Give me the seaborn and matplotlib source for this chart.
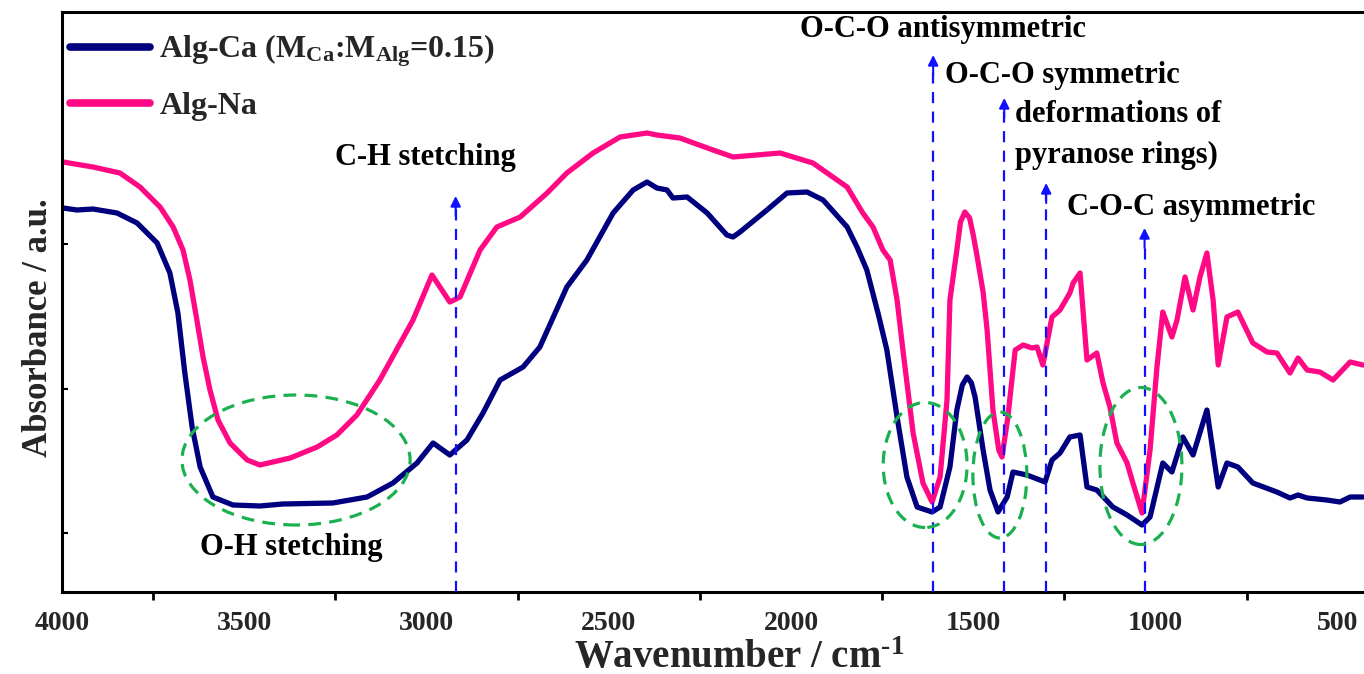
import numpy as np
import pandas as pd
import matplotlib
matplotlib.use("Agg")
import matplotlib.pyplot as plt
from matplotlib.patches import Ellipse
from matplotlib.lines import Line2D
import seaborn as sns

# ---------------- data ----------------
ca_wn = [3997, 3959, 3915, 3849, 3794, 3739, 3704, 3682, 3663, 3643, 3621, 3586, 3531, 3457,
         3394, 3257, 3163, 3092, 3026, 2982, 2936, 2889, 2845, 2798, 2735, 2689, 2615, 2560,
         2488, 2433, 2395, 2368, 2340, 2324, 2285, 2230, 2176, 2159, 2140, 2066, 2011, 1956,
         1912, 1846, 1819, 1792, 1760, 1737, 1709, 1682, 1654, 1613, 1591, 1564, 1545, 1530,
         1517, 1505, 1495, 1473, 1454, 1432, 1407, 1391, 1353, 1317, 1303, 1284, 1262, 1235,
         1207, 1188, 1161, 1117, 1078, 1037, 1015, 980, 955, 925, 897, 859, 828, 804, 774,
         733, 667, 631, 609, 584, 530, 494, 466, 431]
ca_abs = [3.92, 3.90, 3.91, 3.87, 3.77, 3.57, 3.27, 2.87, 2.27, 1.73, 1.33, 1.03, 0.95, 0.94,
          0.96, 0.97, 1.03, 1.17, 1.37, 1.57, 1.45, 1.60, 1.87, 2.20, 2.33, 2.53, 3.13, 3.40,
          3.87, 4.10, 4.18, 4.12, 4.10, 4.02, 4.03, 3.87, 3.65, 3.63, 3.68, 3.90, 4.07, 4.08,
          4.00, 3.73, 3.53, 3.30, 2.85, 2.50, 1.83, 1.23, 0.93, 0.88, 0.93, 1.33, 1.90, 2.15,
          2.23, 2.17, 2.03, 1.50, 1.10, 0.88, 1.03, 1.28, 1.25, 1.20, 1.18, 1.40, 1.47, 1.63,
          1.65, 1.13, 1.10, 0.93, 0.85, 0.75, 0.83, 1.37, 1.28, 1.63, 1.45, 1.90, 1.13, 1.37,
          1.33, 1.17, 1.08, 1.02, 1.05, 1.02, 1.00, 0.98, 1.03, 1.03]

na_wn = [3997, 3915, 3841, 3786, 3731, 3695, 3668, 3649, 3630, 3613, 3594, 3572, 3539, 3492,
         3457, 3374, 3300, 3246, 3191, 3128, 3037, 2985, 2936, 2908, 2853, 2807, 2743, 2669,
         2615, 2543, 2469, 2395, 2368, 2305, 2214, 2159, 2030, 1940, 1846, 1803, 1775, 1748,
         1728, 1709, 1693, 1665, 1638, 1613, 1591, 1572, 1564, 1545, 1535, 1523, 1510, 1500,
         1490, 1473, 1462, 1446, 1430, 1421, 1405, 1385, 1363, 1339, 1325, 1309, 1284, 1262,
         1235, 1226, 1207, 1188, 1161, 1144, 1125, 1106, 1078, 1062, 1037, 1015, 996, 980, 955,
         941, 919, 897, 878, 859, 842, 828, 804, 774, 733, 694, 667, 631, 609, 584, 549, 513,
         466, 431]
na_abs = [4.38, 4.33, 4.27, 4.13, 3.93, 3.73, 3.50, 3.20, 2.80, 2.43, 2.10, 1.80, 1.57, 1.40,
          1.35, 1.42, 1.53, 1.65, 1.85, 2.20, 2.80, 3.25, 2.98, 3.03, 3.50, 3.73, 3.83, 4.07,
          4.27, 4.47, 4.63, 4.67, 4.65, 4.62, 4.50, 4.43, 4.47, 4.37, 4.13, 3.87, 3.73, 3.50,
          3.40, 3.00, 2.50, 1.67, 1.17, 0.98, 1.23, 2.00, 3.00, 3.50, 3.78, 3.88, 3.82, 3.65,
          3.45, 3.08, 2.70, 1.90, 1.50, 1.43, 1.83, 2.50, 2.55, 2.52, 2.53, 2.35, 2.83, 2.90,
          3.07, 3.17, 3.27, 2.40, 2.47, 2.17, 1.93, 1.57, 1.37, 1.17, 0.87, 1.50, 2.33, 2.88,
          2.63, 2.80, 3.23, 2.90, 3.23, 3.47, 3.00, 2.35, 2.83, 2.88, 2.57, 2.48, 2.47, 2.27,
          2.42, 2.30, 2.28, 2.20, 2.38, 2.35]

series_names = ["Alg-Ca (M$_{\\mathbf{Ca}}$:M$_{\\mathbf{Alg}}$=0.15)", "Alg-Na"]
series_colors = ["#00007f", "#ff0a84"]

bands_wn = [2920, 1610, 1415, 1300, 1030]
bands_tip = [4.04, 5.45, 5.02, 4.17, 3.72]

labels_text = ["C-H stetching", "O-H stetching", "O-C-O antisymmetric", "O-C-O symmetric",
               "deformations of", "pyranose rings)", "C-O-C asymmetric"]
labels_wn = [3251, 3621, 1975, 1578, 1386, 1386, 1243]
labels_y = [4.42, 0.52, 5.70, 5.25, 4.85, 4.45, 3.92]

# ellipses: centre wavenumber, centre absorbance, width (cm-1), height
ell_wn = [3358, 1632, 1427, 1040]
ell_y = [1.40, 1.35, 1.25, 1.34]
ell_w = [626, 230, 148, 225]
ell_h = [1.30, 1.25, 1.26, 1.57]

xticks_major = [4000, 3500, 3000, 2500, 2000, 1500, 1000, 500]
xticks_minor = [3750, 3250, 2750, 2250, 1750, 1250, 750]
yticks_pos = [0.67, 2.115, 3.56]

# ---------------- style ----------------
sns.set_theme(style="white")
plt.rcParams["font.family"] = ["Liberation Serif", "DejaVu Serif"]
plt.rcParams["font.weight"] = "bold"
plt.rcParams["mathtext.fontset"] = "custom"
plt.rcParams["mathtext.rm"] = "Liberation Serif:bold"
plt.rcParams["mathtext.bf"] = "Liberation Serif:bold"
plt.rcParams["mathtext.it"] = "Liberation Serif:bold"

df = pd.concat([
    pd.DataFrame({"wn": ca_wn, "abs": ca_abs, "sample": series_names[0]}),
    pd.DataFrame({"wn": na_wn, "abs": na_abs, "sample": series_names[1]}),
])

fig = plt.figure(figsize=(13.64, 6.74), dpi=100)
ax = fig.add_axes([62 / 1364, 82 / 674, 1 - 62 / 1364, 580 / 674])

sns.lineplot(data=df, x="wn", y="abs", hue="sample", palette=series_colors,
             hue_order=series_names, estimator=None, sort=False, lw=3.8, ax=ax, legend=False)
for ln in ax.get_lines():
    ln.set_solid_joinstyle("round")

ax.set_xlim(4000, 428)
ax.set_ylim(0.08, 5.88)

# arrows
for w, tip in zip(bands_wn, bands_tip):
    ax.plot([w, w], [0.08, tip - 0.05], color="#1010ff", lw=1.6, ls=(0, (5, 3.8)), zorder=4)
    ax.annotate("", xy=(w, tip), xytext=(w, tip - 0.2),
                arrowprops=dict(arrowstyle="-|>", color="#1010ff", lw=1.5,
                                mutation_scale=15, shrinkA=0, shrinkB=0), zorder=5)

for cx, cy, ew, eh in zip(ell_wn, ell_y, ell_w, ell_h):
    ax.add_patch(Ellipse((cx, cy), ew, eh, fill=False, ec="#1bb04f", lw=2.3,
                         ls=(0, (4, 2.6)), zorder=5))

for t, x, y in zip(labels_text, labels_wn, labels_y):
    ax.text(x, y, t, ha="left", va="center", fontsize=22, fontweight="bold", color="black")

# axes styling
for s in ["left", "bottom", "top"]:
    ax.spines[s].set_linewidth(2.2)
    ax.spines[s].set_color("black")
ax.spines["right"].set_visible(False)

ax.set_xticks(xticks_major)
ax.set_xticks(xticks_minor, minor=True)
ax.tick_params(axis="x", which="major", direction="out", length=10, width=2, top=False,
               labelsize=20, pad=4, color="black")
ax.tick_params(axis="x", which="minor", direction="out", length=6, width=2, top=False,
               bottom=True, color="black")
ax.set_xticklabels([str(v) for v in xticks_major], fontweight="bold")
ax.set_yticks(yticks_pos)
ax.set_yticklabels([])
ax.tick_params(axis="y", which="major", direction="in", length=4, width=1.5, left=True,
               color="black")

ax.set_xlabel("Wavenumber / cm$^{\\text{-1}}$", fontsize=28, fontweight="bold")
ax.xaxis.set_label_coords(0.52, -0.082)
ax.set_ylabel("Absorbance / a.u.", fontsize=25, fontweight="bold")
ax.yaxis.set_label_coords(-0.005, 0.455)

handles = [Line2D([0], [0], color=c, lw=5.5, solid_capstyle="round") for c in series_colors]
leg = ax.legend(handles, series_names, loc="upper left", bbox_to_anchor=(0.0, 0.978),
                frameon=False, fontsize=23, handlelength=2.5, handletextpad=0.3,
                labelspacing=0.7, borderaxespad=0.05, borderpad=0.2)
for t in leg.get_texts():
    t.set_fontweight("bold")

fig.savefig("out.png", dpi=100)
